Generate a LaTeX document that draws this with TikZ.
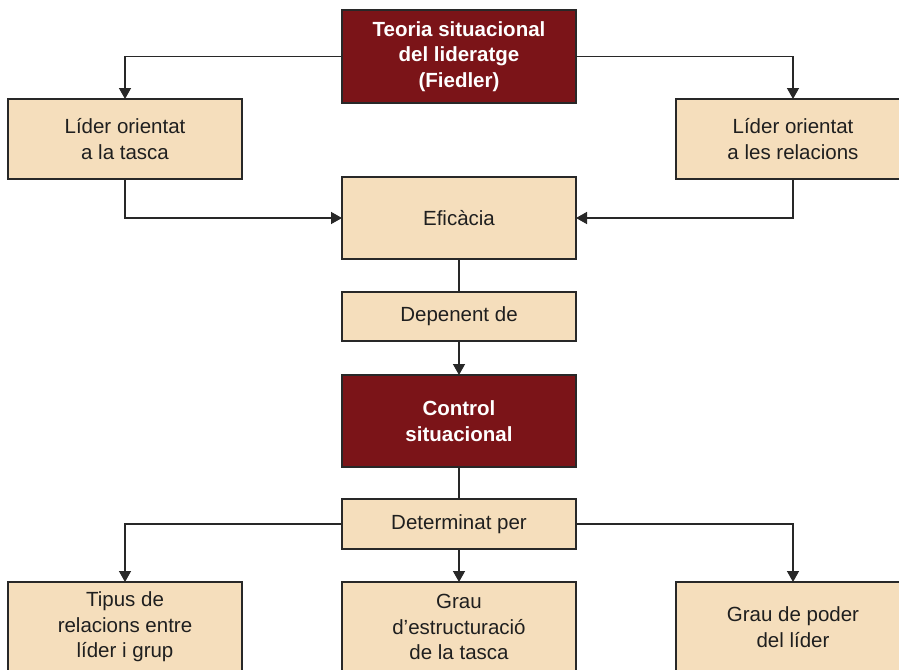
\documentclass[tikz,border=0pt]{standalone}
\usepackage{fontspec}
\setmainfont{Liberation Sans}
\usetikzlibrary{arrows.meta,positioning}
\definecolor{wine}{RGB}{123,20,24}
\definecolor{sand}{RGB}{245,222,188}
\definecolor{edge}{RGB}{40,40,40}

\begin{document}
\begin{tikzpicture}[x=1pt, y=1pt,
  box/.style={draw=edge, line width=1.4pt, minimum width=234pt, inner sep=0pt, outer sep=0pt, align=center, font=\fontsize{20.5}{25.5}\selectfont},
  lightbox/.style={box, fill=sand, text=black!88},
  darkbox/.style={box, fill=wine, text=white, font=\fontsize{20.5}{25.5}\selectfont\bfseries},
  link/.style={draw=edge, line width=1.4pt},
  arr/.style={link, -{Triangle[width=12pt,length=11pt]}}]
  \clip (0,0) rectangle (899,-669);
  \fill[white] (0,0) rectangle (899,-669);

  % top level
  \node[darkbox, minimum height=93pt] (teoria) at (459,-56.5) {Teoria situacional\\del lideratge\\(Fiedler)};
  \node[lightbox, minimum height=80pt] (tasca) at (125,-139) {Líder orientat\\a la tasca};
  \node[lightbox, minimum height=80pt] (relac) at (793,-139) {Líder orientat\\a les relacions};

  % central column
  \node[lightbox, minimum height=82pt, below=74pt of teoria] (efic) {Eficàcia};
  \node[lightbox, minimum height=49pt, below=33pt of efic] (dep) {Depenent de};
  \node[darkbox, minimum height=92pt, below=34pt of dep] (ctrl) {Control\\situacional};
  \node[lightbox, minimum height=50pt, below=32pt of ctrl] (det) {Determinat per};

  % bottom level
  \node[lightbox, minimum height=90pt, below=33pt of det] (grau) {Grau\\d’estructuració\\de la tasca};
  \node[lightbox, minimum height=90pt, left=100pt of grau] (tipus) {Tipus de\\relacions entre\\líder i grup};
  \node[lightbox, minimum height=90pt, right=100pt of grau] (poder) {Grau de poder\\del líder};

  \draw[arr] (teoria.west) -| (tasca.north);
  \draw[arr] (teoria.east) -| (relac.north);
  \draw[arr] (tasca.south) |- (efic.west);
  \draw[arr] (relac.south) |- (efic.east);
  \draw[link] (efic) -- (dep);
  \draw[arr] (dep) -- (ctrl);
  \draw[link] (ctrl) -- (det);
  \draw[arr] (det.west) -| (tipus.north);
  \draw[arr] (det) -- (grau);
  \draw[arr] (det.east) -| (poder.north);
\end{tikzpicture}
\end{document}
